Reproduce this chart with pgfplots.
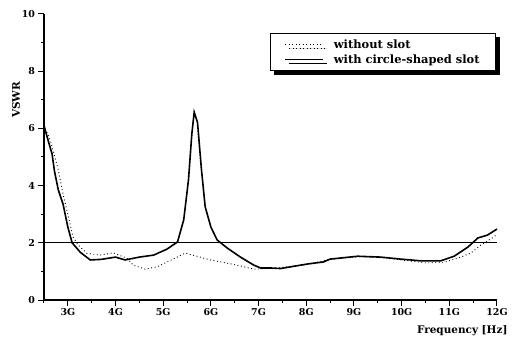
\documentclass[border=0pt]{standalone}
\usepackage{fontspec}
\setmainfont{DejaVu Serif}
\usepackage{pgfplots}
\pgfplotsset{compat=1.18}
\usetikzlibrary{shadows}
\begin{document}
\begin{tikzpicture}
\begin{axis}[
  scale only axis, width=453bp, height=286bp,
  xmin=2.5, xmax=12, ymin=0, ymax=10,
  axis lines=left, axis line style={-, line width=1.2bp},
  tick align=outside, major tick length=5.5bp, minor tick length=3bp,
  tick style={black, line width=1bp},
  xtick={3,4,5,6,7,8,9,10,11,12},
  xticklabels={3G,4G,5G,6G,7G,8G,9G,10G,11G,12G},
  minor xtick={2.5,3.5,4.5,5.5,6.5,7.5,8.5,9.5,10.5,11.5},
  ytick={0,2,4,6,8,10}, minor ytick={1,3,5,7,9},
  /pgf/number format/assume math mode=true,
  ticklabel style={font=\fontsize{9.5}{11}\selectfont\bfseries},
  xticklabel style={yshift=1bp},
  xlabel={Frequency [Hz]},
  xlabel style={at={(rel axis cs:1,0)}, anchor=north east, xshift=14bp, yshift=-22bp, font=\fontsize{10.5}{12}\selectfont\bfseries},
  ylabel={VSWR},
  ylabel style={at={(rel axis cs:0,0.70)}, anchor=center, yshift=28bp, font=\fontsize{10.5}{12}\selectfont\bfseries},
  legend style={at={(rel axis cs:0.998,0.934)}, anchor=north east, draw=black, line width=1bp, fill=white,
    drop shadow={shadow xshift=4bp, shadow yshift=-4bp, fill=black, opacity=1},
    font=\fontsize{11.5}{13}\selectfont\bfseries, row sep=1bp, inner xsep=14bp, inner ysep=4bp,
    cells={anchor=west}},
  legend image code/.code={\draw[#1] (0bp,0bp) -- (38bp,0bp);},
  clip=false,
]
\addplot[black, line width=0.9bp, dash pattern=on 0.9bp off 2.6bp] coordinates {
(2.5,6.1) (2.63,5.6) (2.8,4.55) (2.9,3.7) (3.0,3.0) (3.11,2.2) (3.22,1.92) (3.4,1.63) (3.68,1.57) (3.95,1.65) (4.24,1.46) (4.37,1.22) (4.62,1.08) (4.87,1.16) (5.21,1.43) (5.46,1.64) (5.71,1.53) (5.99,1.4) (6.34,1.29) (6.62,1.19) (6.9,1.08) (7.3,1.1) (8.0,1.24) (8.5,1.42) (9.1,1.52) (9.6,1.48) (10.0,1.4) (10.5,1.3) (10.9,1.32) (11.24,1.5) (11.45,1.64) (11.66,1.92) (11.93,2.2) (12.0,2.3)
};
\addlegendentry{\hspace{8bp}without slot}
\addplot[black, line width=1.6bp] coordinates {
(2.5,6.1) (2.6,5.5) (2.67,5.1) (2.72,4.5) (2.8,3.85) (2.9,3.35) (3.0,2.55) (3.09,2.0) (3.26,1.67) (3.47,1.4) (3.7,1.42) (4.0,1.5) (4.2,1.4) (4.5,1.5) (4.8,1.57) (5.08,1.78) (5.3,2.03) (5.43,2.8) (5.53,4.2) (5.6,5.8) (5.65,6.57) (5.72,6.2) (5.8,4.6) (5.88,3.26) (6.0,2.55) (6.13,2.1) (6.34,1.82) (6.62,1.5) (6.9,1.22) (7.04,1.12) (7.25,1.12) (7.46,1.1) (8.03,1.26) (8.36,1.33) (8.5,1.43) (9.08,1.53) (9.56,1.5) (9.98,1.43) (10.4,1.37) (10.82,1.37) (11.1,1.53) (11.39,1.85) (11.6,2.17) (11.8,2.27) (12.0,2.48)
};
\addlegendentry{\hspace{8bp}with circle-shaped slot}
\addplot[black, line width=0.9bp, forget plot] coordinates {(2.5,2) (12,2)};
\end{axis}
\path (current axis.south west) ++(-44bp,-45bp) rectangle ++(519bp,345bp);
\end{tikzpicture}
\end{document}
